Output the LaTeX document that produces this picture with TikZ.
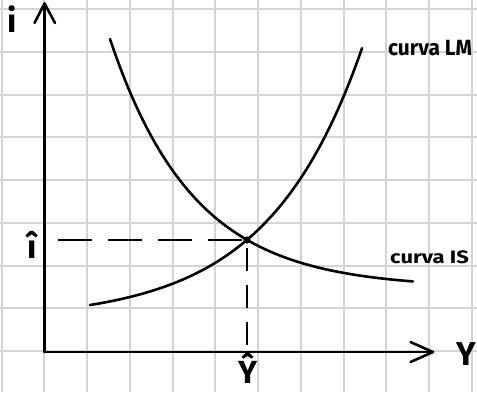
\documentclass[tikz,border=0pt]{standalone}
\usepackage{fontspec}
\setmainfont{Fira Sans}
\usetikzlibrary{arrows.meta}
\tikzset{
  gridline/.style={draw=black!17, line width=2pt},
  axisline/.style={line width=2.6pt, line cap=round},
  curveline/.style={line width=2.6pt, line cap=round},
  dashline/.style={line width=2.6pt, dash pattern=on 34pt off 16pt},
  vdashline/.style={line width=2.6pt, dash pattern=on 23pt off 14pt},
  barb/.style={line width=2.6pt, line cap=round, line join=round},
  biglabel/.style={font=\fontsize{33}{33}\selectfont\bfseries, inner sep=0pt},
  curvelabel/.style={inner sep=0pt, anchor=base west}
}
\begin{document}
\begin{tikzpicture}[x=1pt,y=-1pt]
\useasboundingbox (0,0) rectangle (477,392);
\fill[white] (0,0) rectangle (477,392);
% grid
\foreach \k in {0,...,11} {
  \draw[gridline] ({1.5+42.75*\k},0) -- ({1.5+42.75*\k},392);
}
\foreach \k in {0,...,9} {
  \draw[gridline] (0,{9+42.75*\k}) -- (477,{9+42.75*\k});
}
% axes
\coordinate (O) at (44.5,352);
\coordinate (ytip) at (44.5,3.5);
\coordinate (xtip) at (433,352);
\coordinate (yl) at (34.5,23);
\coordinate (yr) at (55,23);
\coordinate (xu) at (410.5,342);
\coordinate (xd) at (410.5,362);
\draw[axisline] (O) -- (ytip);
\draw[axisline] (O) -- (xtip);
\draw[barb] (yl) -- (ytip) -- (yr);
\draw[barb] (xu) -- (xtip) -- (xd);
% equilibrium
\coordinate (E) at (247,240);
\coordinate (Ex) at (247,352);
\coordinate (Ey) at (58,240);
\draw[dashline] (Ey) -- (E);
\draw[vdashline] (E) ++(0,8) -- (Ex);
% curves
\draw[curveline] plot[domain=90:362, samples=80, smooth] (\x, {320.2-15.2*exp(0.0106*(\x-90))});
\draw[curveline] plot[domain=110:413, samples=80, smooth] (\x, {288-252*exp(-0.012*(\x-109))});
\fill (E) circle (3.6pt);
% labels
\node[biglabel, anchor=base] (ilab) at (12.5,32) {i};
\node[biglabel, anchor=base] (ihat) at (32,258) {î};
\node[biglabel, anchor=base] (Ylab) at (466,365) {Y};
\node[biglabel, anchor=base, font=\fontsize{32}{32}\selectfont\bfseries] (Yhat) at (248,383) {Ŷ};
\node[curvelabel, font=\fontsize{22}{22}\selectfont\bfseries, xscale=0.95] (LM) at (388,55) {curva LM};
\node[curvelabel, font=\fontsize{18}{18}\selectfont\bfseries, xscale=1.22] (IS) at (390,263) {curva IS};
\end{tikzpicture}
\end{document}
